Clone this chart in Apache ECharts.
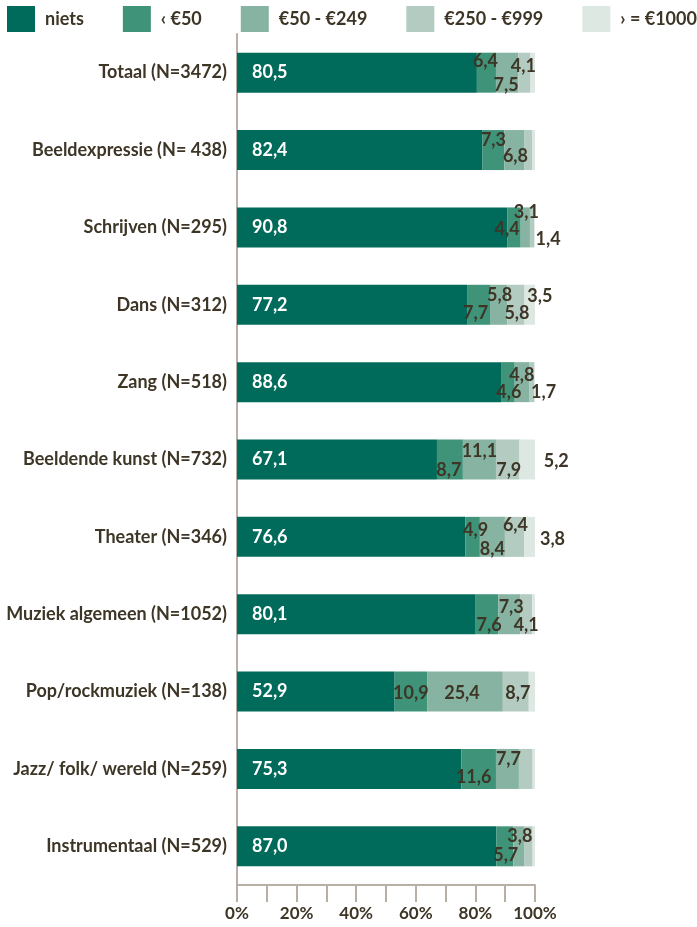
<!DOCTYPE html>
<html>
<head>
<meta charset="utf-8">
<script src="https://cdn.jsdelivr.net/npm/echarts@6/dist/echarts.min.js"></script>
<style>
  html, body { margin: 0; padding: 0; background: #fff; }
  #chart { width: 697px; height: 927px; }
</style>
</head>
<body>
<div id="chart"></div>
<script>
  var categories = ['Totaal (N=3472)', 'Beeldexpressie (N= 438)', 'Schrijven (N=295)', 'Dans (N=312)',
    'Zang (N=518)', 'Beeldende kunst (N=732)', 'Theater (N=346)', 'Muziek algemeen (N=1052)',
    'Pop/rockmuziek (N=138)', 'Jazz/ folk/ wereld (N=259)', 'Instrumentaal (N=529)'];
  var seriesNames = ['niets', '\u2039 \u20ac50', '\u20ac50 - \u20ac249', '\u20ac250 - \u20ac999', '\u203a = \u20ac1000'];
  var niets = [80.5, 82.4, 90.8, 77.2, 88.6, 67.1, 76.6, 80.1, 52.9, 75.3, 87.0];
  var lt50 = [6.4, 7.3, 4.4, 7.7, 4.6, 8.7, 4.9, 7.6, 10.9, 11.6, 5.7];
  var e50 = [7.5, 6.8, 3.1, 5.8, 4.8, 11.1, 8.4, 7.3, 25.4, 7.7, 3.8];
  var e250 = [4.1, 2.5, 1.4, 5.8, 1.7, 7.9, 6.4, 4.1, 8.7, 4.6, 2.7];
  var e1000 = [1.5, 1.0, 0.6, 3.5, 0.5, 5.2, 3.8, 0.9, 2.1, 0.8, 0.8];
  var xTicks = [0, 20, 40, 60, 80, 100];

  // label nudges [dx, dy] from the segment centre, null = no label
  var labelOffsets = [
    null,
    [[-1, -11], [0, -10], [-7, 2], [-3, 8], [1, 10], [-1, 11], [3, -7], [2, 11], [0, 2], [-5, 8], [1, 9]],
    [[-1, 13], [1, 6], [1, -15], [1, -10], [0, -7], [0, -8], [0, 12], [2, -7], [-3, 2], [1, -10], [1, -10]],
    [[-1, -6], null, [16, 12], [1, 8], [12, 10], [1, 11], [1, -12], [0, 11], [2, 2], null, null],
    [null, null, null, [10, -9], null, [29, 2], [23, 2], null, null, null, null]
  ];
  var colors = ['#006b5a', '#3f9379', '#86b3a2', '#b3cbc1', '#dde8e3'];
  var textColor = '#3d3526';
  var axisColor = '#b8b0a7';
  var font = 'Lato';

  function fmt(v) { return v.toFixed(1).replace('.', ','); }

  var values = [niets, lt50, e50, e250, e1000];
  var series = values.map(function (arr, s) {
    return {
      name: seriesNames[s],
      type: 'bar',
      stack: 'total',
      barWidth: 40,
      itemStyle: { color: colors[s] },
      data: arr.map(function (v, i) {
        if (s === 0) return v;
        var off = labelOffsets[s][i];
        if (!off) return { value: v, label: { show: false } };
        return { value: v, label: { show: true, offset: off } };
      }),
      label: s === 0 ? {
        show: true, position: 'insideLeft', offset: [10, 0], color: '#fff',
        fontFamily: font, fontWeight: 'bold', fontSize: 18,
        formatter: function (p) { return fmt(p.value); }
      } : {
        show: true, position: 'inside', color: textColor,
        fontFamily: font, fontWeight: 'bold', fontSize: 18,
        formatter: function (p) { return fmt(p.value); }
      }
    };
  });

  var chart = echarts.init(document.getElementById('chart'));
  chart.setOption({
    animation: false,
    backgroundColor: '#fff',
    color: colors,
    legend: {
      data: seriesNames,
      left: 7, top: 6, padding: 0,
      icon: 'rect',
      itemWidth: 28, itemHeight: 26, itemGap: 39,
      textStyle: { color: textColor, fontFamily: font, fontWeight: 'bold', fontSize: 18, padding: [0, 0, 0, 5] }
    },
    grid: { left: 237, right: 162, top: 34, bottom: 42 },
    xAxis: {
      type: 'value', min: 0, max: 100, interval: 10,
      axisLine: { show: true, lineStyle: { color: axisColor, width: 2 } },
      axisTick: { show: true, length: 17, lineStyle: { color: axisColor, width: 2 } },
      splitLine: { show: false },
      axisLabel: {
        color: textColor, fontFamily: font, fontWeight: 'bold', fontSize: 17, margin: 20,
        formatter: function (v) { return xTicks.indexOf(v) >= 0 ? v + '%' : ''; }
      }
    },
    yAxis: {
      type: 'category', inverse: true, data: categories,
      axisLine: { show: true, lineStyle: { color: axisColor, width: 2 } },
      axisTick: { show: false },
      axisLabel: { color: textColor, fontFamily: font, fontWeight: 'bold', fontSize: 18, margin: 10 }
    },
    series: series
  });
</script>
</body>
</html>
